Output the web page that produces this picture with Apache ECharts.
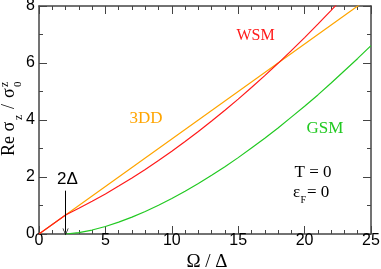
<!DOCTYPE html>
<html>
<head>
<meta charset="utf-8">
<script src="https://cdn.jsdelivr.net/npm/echarts@6/dist/echarts.min.js"></script>
<style>
html,body{margin:0;padding:0;background:#fff;}
#chart{width:381px;height:269px;}
</style>
</head>
<body>
<div id="chart"></div>
<script>
// Ω/Δ sample points
const omega = [0,1,2,3,4,5,6,7,8,9,10,11,12,13,14,15,16,17,18,19,20,21,22,23,24,25];
// 3DD (orange)
const dd3 = [0,0.333,0.667,1.0,1.333,1.667,2.0,2.333,2.667,3.0,3.333,3.667,4.0,4.333,4.667,5.0,5.333,5.667,6.0,6.333,6.667,7.0,7.333,7.667,8.0,8.333];
// WSM (red)
const wsm = [0,0.333,0.667,0.901,1.147,1.407,1.681,1.967,2.267,2.579,2.905,3.245,3.597,3.963,4.341,4.733,5.139,5.557,5.989,6.433,6.891,7.363,7.847,8.345,8.855,9.379];
// GSM (green)
const gsm = [null,null,0,0.047,0.139,0.264,0.417,0.593,0.79,1.008,1.245,1.5,1.77,2.06,2.36,2.68,3.02,3.36,3.72,4.1,4.48,4.88,5.3,5.73,6.16,6.61];
// axis ticks
const xTicks = {min:0, max:25, interval:5};
const yTicks = {min:0, max:8, interval:2};
// 2Δ arrow (data coords)
const arrowX = 2, arrowTop = 1.52, arrowBottom = 0.08;

const zip = (xs, ys) => xs.map((x,i)=>[x, ys[i]]);

const chart = echarts.init(document.getElementById('chart'), null, {renderer:'canvas'});
const axisCol = '#444';
const serif = '"Liberation Serif", "DejaVu Serif", serif';
const sans = '"Liberation Sans", Arial, sans-serif';

function mkX(pos, show){
  return {
    type:'value', position:pos, min:xTicks.min, max:xTicks.max, interval:xTicks.interval,
    axisLine:{show:true, onZero:false, lineStyle:{color:axisCol, width:1.5}},
    axisTick:{show:true, inside:true, length:8, lineStyle:{color:axisCol, width:1}},
    minorTick:{show:true, splitNumber:5, length:4, lineStyle:{color:axisCol, width:1}},
    axisLabel:{show:show, margin:-1, color:'#000', fontSize:16, fontFamily:sans},
    splitLine:{show:false}, minorSplitLine:{show:false}
  };
}
function mkY(pos, show){
  return {
    type:'value', position:pos, min:yTicks.min, max:yTicks.max, interval:yTicks.interval,
    axisLine:{show:true, onZero:false, lineStyle:{color:axisCol, width:1.5}},
    axisTick:{show:true, inside:true, length:8, lineStyle:{color:axisCol, width:1}},
    minorTick:{show:true, splitNumber:2, length:4, lineStyle:{color:axisCol, width:1}},
    axisLabel:{show:show, margin:4, color:'#000', fontSize:16, fontFamily:sans},
    splitLine:{show:false}, minorSplitLine:{show:false}
  };
}

const lineSeries = (name, ys, color) => ({
  type:'line', name, data: zip(omega, ys), xAxisIndex:0, yAxisIndex:0,
  showSymbol:false, symbol:'none', smooth:false, clip:true, connectNulls:false,
  lineStyle:{color, width:1.2}, itemStyle:{color}, z:3
});

const option = {
  animation:false,
  backgroundColor:'#fff',
  grid:{left:39, right:10, top:6, bottom:35, containLabel:false, outerBoundsMode:'none'},
  xAxis:[mkX('bottom', true), mkX('top', false)],
  yAxis:[mkY('left', true), mkY('right', false)],
  series:[
    lineSeries('3DD', dd3, '#FFA500'),
    lineSeries('WSM', wsm, '#FF1a1a'),
    lineSeries('GSM', gsm, '#22C922'),
    {
      type:'line', data:[], xAxisIndex:0, yAxisIndex:0, silent:true,
      markLine:{
        silent:true, animation:false,
        symbol:['none','path://M0,10 L5,0 L10,10 L9,10.6 L5,2.2 L1,10.6 Z'],
        symbolSize:[6,7],
        label:{show:false},
        lineStyle:{color:'#000', width:1, type:'solid'},
        data:[[{coord:[arrowX, arrowTop]},{coord:[arrowX, arrowBottom]}]]
      }
    }
  ],
  graphic:[
    {type:'text', x:207, y:262, style:{text:'Ω / Δ', font:'19px '+serif, fill:'#000', align:'center', verticalAlign:'middle'}},
    {type:'group', x:15, y:156, rotation:Math.PI/2, children:[
      {type:'text', x:0, y:-5.5, style:{text:'Re σ', font:'18px '+serif, fill:'#000', align:'left', verticalAlign:'middle'}},
      {type:'text', x:36, y:3.5, style:{text:'z', font:'12px '+serif, fill:'#000', align:'left', verticalAlign:'middle'}},
      {type:'text', x:47, y:-5.5, style:{text:'/', font:'18px '+serif, fill:'#000', align:'left', verticalAlign:'middle'}},
      {type:'text', x:58, y:-5.5, style:{text:'σ', font:'18px '+serif, fill:'#000', align:'left', verticalAlign:'middle'}},
      {type:'text', x:69, y:-10.5, style:{text:'z', font:'12px '+serif, fill:'#000', align:'left', verticalAlign:'middle'}},
      {type:'text', x:69, y:3, style:{text:'0', font:'11px '+serif, fill:'#000', align:'left', verticalAlign:'middle'}}
    ]},
    {type:'text', x:146, y:119, style:{text:'3DD', font:'17px '+serif, fill:'#FFA500', align:'center', verticalAlign:'middle'}},
    {type:'text', x:255.5, y:35.5, style:{text:'WSM', font:'16px '+serif, fill:'#FF1a1a', align:'center', verticalAlign:'middle'}},
    {type:'text', x:325, y:128.5, style:{text:'GSM', font:'17px '+serif, fill:'#22C922', align:'center', verticalAlign:'middle'}},
    {type:'text', x:313, y:173, style:{text:'T = 0', font:'17px '+serif, fill:'#000', align:'center', verticalAlign:'middle'}},
    {type:'text', x:293, y:193, style:{text:'ε', font:'17px '+serif, fill:'#000', align:'left', verticalAlign:'middle'}},
    {type:'text', x:300.5, y:200, style:{text:'F', font:'10px '+serif, fill:'#000', align:'left', verticalAlign:'middle'}},
    {type:'text', x:307, y:193, style:{text:'= 0', font:'17px '+serif, fill:'#000', align:'left', verticalAlign:'middle'}},
    {type:'text', x:67.5, y:179, style:{text:'2Δ', font:'17px '+sans, fill:'#000', align:'center', verticalAlign:'middle'}}
  ]
};
chart.setOption(option);
</script>
</body>
</html>
